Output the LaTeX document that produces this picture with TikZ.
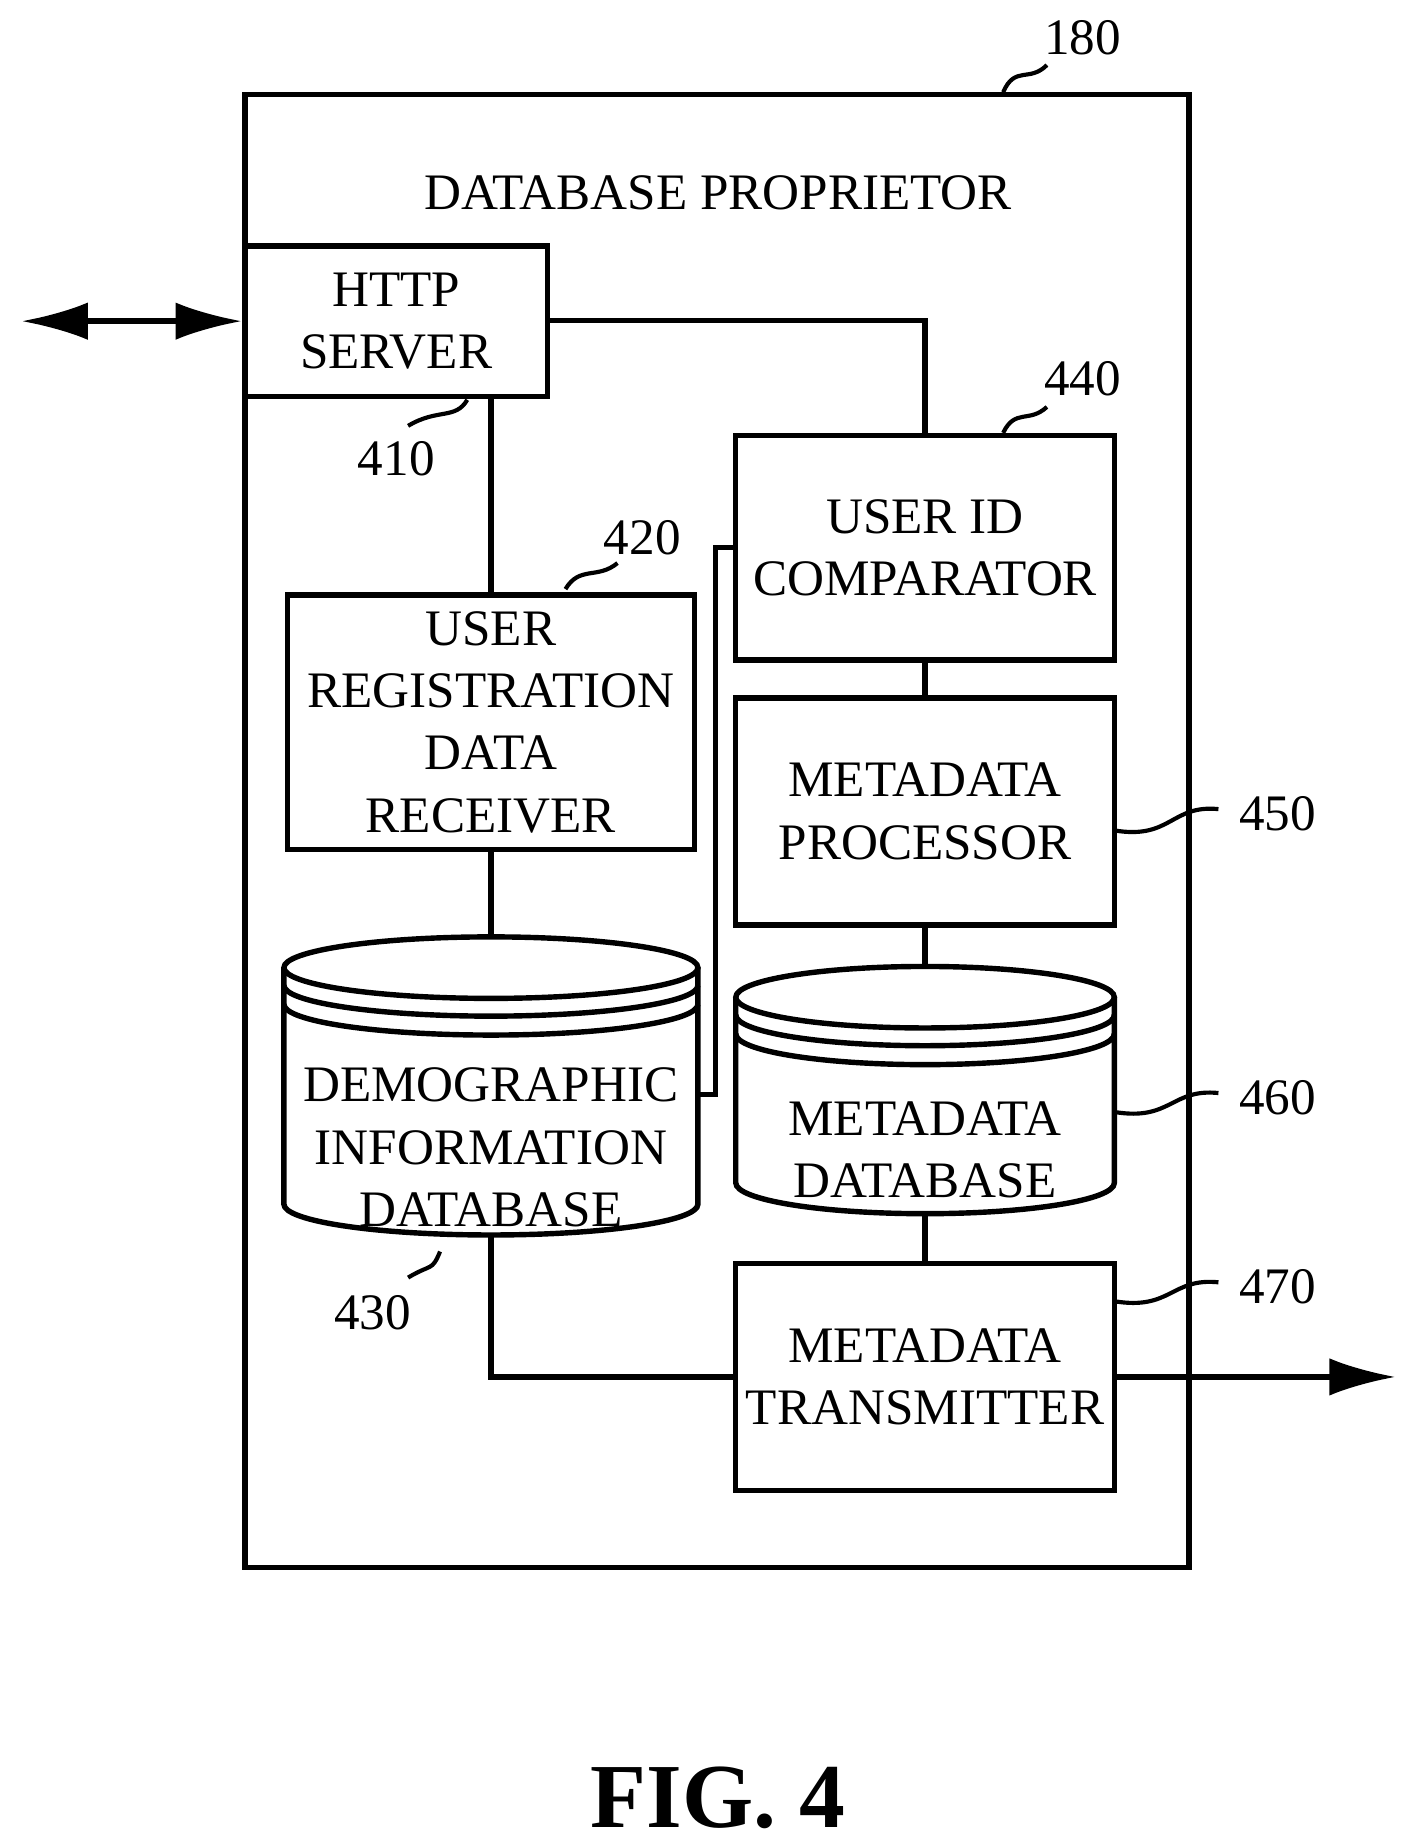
\documentclass[tikz,border=0pt]{standalone}
\usepackage{fontspec}
\setmainfont{Liberation Serif}
\usetikzlibrary{positioning,arrows.meta}

\tikzset{
  blk/.style={draw, line width=1.3pt, minimum width=3.2cm, align=center, font=\fontsize{12.3}{15}\selectfont, inner sep=0pt},
  lbl/.style={font=\fontsize{12.3}{15}\selectfont},
  wire/.style={line width=1.3pt},
  tilde/.style={line width=1pt}
}
% cylinder: centre x, top-ellipse y, half width, bottom-ellipse y
\newcommand{\dbcyl}[4]{%
  \draw[wire] (#1,#2) ellipse ({#3} and 26);
  \draw[wire] (#1-#3,#2) -- (#1-#3,#4) arc (180:0:{#3} and 26) -- (#1+#3,#2);
  \draw[wire] (#1-#3,#2+15) arc (180:0:{#3} and 26);
  \draw[wire] (#1-#3,#2+31) arc (180:0:{#3} and 26);
}

\begin{document}
\begin{tikzpicture}[x=0.01cm, y=-0.01cm, >={Latex[length=16pt,width=9pt]}]
\useasboundingbox (0,0) rectangle (1190,1558);

%outer box
\draw[wire] (207,80) rectangle (1005,1325);
\node[lbl] at (607,163) {DATABASE PROPRIETOR};

%blocks
\node[blk, minimum width=2.56cm, minimum height=1.27cm] (http) at (335,271.5) {HTTP\\SERVER};
\node[blk, minimum width=3.44cm, minimum height=2.15cm] (reg) at (415,610.5) {USER\\REGISTRATION\\DATA\\RECEIVER};
\node[blk, minimum height=1.9cm] (cmp) at (782,463) {USER ID\\COMPARATOR};
\node[blk, minimum height=1.92cm] (proc) at (782,686) {METADATA\\PROCESSOR};
\node[blk, minimum height=1.92cm] (tx) at (782,1164) {METADATA\\TRANSMITTER};

%databases
\dbcyl{415}{818}{175}{1018}
\node[lbl, align=center] (demo) at (415,970) {DEMOGRAPHIC\\INFORMATION\\DATABASE};
\coordinate (demotop) at (415,792);
\coordinate (demobot) at (415,1044);
\coordinate (demoright) at (590,925);
\dbcyl{782}{843}{160}{1000}
\node[lbl, align=center] (meta) at (782,972) {METADATA\\DATABASE};
\coordinate (metatop) at (782,817);
\coordinate (metabot) at (782,1026);

%connectors
\coordinate (left) at (18,271.5);
\coordinate (right) at (1180,1164);
\draw[wire, <->] (left) -- (http.west);
\draw[wire] (http.east |- 0,271) -| (cmp.north);
\draw[wire] (415,335) -- (reg.north);
\draw[wire] (reg.south) -- (demotop);
\draw[wire] (demoright) -- ++(15,0) |- (cmp.west);
\draw[wire] (cmp.south) -- (proc.north);
\draw[wire] (proc.south) -- (metatop);
\draw[wire] (metabot) -- (tx.north);
\draw[wire] (demobot) |- (tx.west);
\draw[wire, ->] (tx.east) -- (right);

%reference numerals
\node[lbl] (n180) at (915,32) {180};
\node[lbl] (n410) at (335,388) {410};
\node[lbl] (n420) at (543,455) {420};
\node[lbl] (n440) at (915,320) {440};
\node[lbl] (n450) at (1080,688) {450};
\node[lbl] (n460) at (1080,928) {460};
\node[lbl] (n470) at (1080,1088) {470};
\node[lbl] (n430) at (315,1110) {430};
\draw[tilde] (848,78) .. controls (858,55) and (870,70) .. (885,55);
\draw[tilde] (345,360) .. controls (370,345) and (385,355) .. (395,338);
\draw[tilde] (478,498) .. controls (490,478) and (505,490) .. (522,476);
\draw[tilde] (848,366) .. controls (858,345) and (870,358) .. (885,344);
\draw[tilde] (942,702) .. controls (990,710) and (990,680) .. (1030,684);
\draw[tilde] (942,940) .. controls (990,948) and (990,920) .. (1030,924);
\draw[tilde] (942,1100) .. controls (990,1108) and (990,1080) .. (1030,1084);
\draw[tilde] (345,1080) .. controls (365,1068) and (365,1075) .. (372,1058);

\node[font=\bfseries\fontsize{22}{24}\selectfont] (fig) at (607,1520) {FIG. 4};
\end{tikzpicture}
\end{document}
